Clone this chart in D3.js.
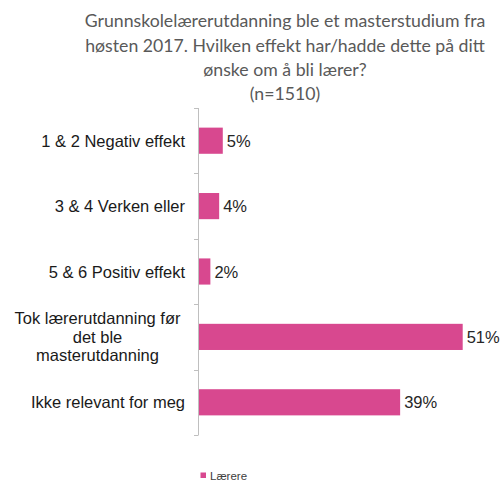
<!DOCTYPE html>
<html>
<head>
<meta charset="utf-8">
<script src="https://cdn.jsdelivr.net/npm/d3@7"></script>
<style>
  html, body { margin: 0; padding: 0; background: #fff; }
  svg { display: block; }
</style>
</head>
<body>
<svg id="chart" width="502" height="482"></svg>
<script>
const titleLines = [
  "Grunnskolelærerutdanning ble et masterstudium fra",
  "høsten 2017. Hvilken effekt har/hadde dette på ditt",
  "ønske om å bli lærer?",
  "(n=1510)"
];
const categories = [
  ["1 & 2 Negativ effekt"],
  ["3 & 4 Verken eller"],
  ["5 & 6 Positiv effekt"],
  ["Tok lærerutdanning før", "det ble", "masterutdanning"],
  ["Ikke relevant for meg"]
];
const values = [4.6, 3.9, 2.2, 51.0, 38.9];
const valueLabels = ["5%", "4%", "2%", "51%", "39%"];
const seriesName = "Lærere";

const color = "#d8488f";
const svg = d3.select("#chart");

// Title
const title = svg.append("g");
const titleBaselines = [27, 51.5, 76, 100];
titleLines.forEach((t, i) => {
  title.append("text")
    .attr("x", 285)
    .attr("y", titleBaselines[i])
    .attr("text-anchor", "middle")
    .attr("font-family", "Lato, 'Open Sans', sans-serif")
    .attr("font-size", 17.7)
    .attr("fill", "#595959")
    .text(t);
});

const x0 = 199;
const x = d3.scaleLinear().domain([0, 51]).range([x0, 462.7]);
const y = d3.scaleBand()
  .domain(d3.range(categories.length))
  .range([108, 435])
  .paddingInner(0.6)
  .paddingOuter(0.3);

// bars
svg.append("g").selectAll("rect")
  .data(values)
  .join("rect")
  .attr("x", x(0))
  .attr("y", (d, i) => y(i))
  .attr("width", d => x(d) - x(0))
  .attr("height", y.bandwidth())
  .attr("fill", color);

// value labels
svg.append("g").selectAll("text")
  .data(values)
  .join("text")
  .attr("x", d => x(d) + 4)
  .attr("y", (d, i) => y(i) + y.bandwidth() / 2 + 6)
  .attr("font-family", "'Liberation Sans', Arial, sans-serif")
  .attr("font-size", 16.5)
  .attr("fill", "#262626")
  .text((d, i) => valueLabels[i]);

// axis
const axis = svg.append("g").attr("stroke", "#bfbfbf").attr("stroke-width", 1);
axis.append("line")
  .attr("x1", x0 - 0.5).attr("x2", x0 - 0.5)
  .attr("y1", 108).attr("y2", 435);
const tickYs = d3.range(categories.length + 1).map(i => 108 + i * (327 / categories.length));
axis.selectAll("line.tick")
  .data(tickYs)
  .join("line")
  .attr("class", "tick")
  .attr("x1", x0 - 5).attr("x2", x0 - 0.5)
  .attr("y1", d => Math.round(d) + 0.5).attr("y2", d => Math.round(d) + 0.5);

// category labels
const labG = svg.append("g")
  .attr("font-family", "'Liberation Sans', Arial, sans-serif")
  .attr("font-size", 16.5)
  .attr("fill", "#1a1a1a");
categories.forEach((lines, i) => {
  const cy = y(i) + y.bandwidth() / 2;
  if (lines.length === 1) {
    labG.append("text")
      .attr("x", 185)
      .attr("y", cy + 6)
      .attr("text-anchor", "end")
      .text(lines[0]);
  } else {
    const lh = 18.5;
    lines.forEach((l, j) => {
      labG.append("text")
        .attr("x", 97.5)
        .attr("y", cy + 6 + (j - (lines.length - 1) / 2) * lh)
        .attr("text-anchor", "middle")
        .text(l);
    });
  }
});

// legend
const leg = svg.append("g");
leg.append("rect")
  .attr("x", 200.5).attr("y", 472.5)
  .attr("width", 5.5).attr("height", 5.5)
  .attr("fill", color);
leg.append("text")
  .attr("x", 210)
  .attr("y", 479.5)
  .attr("font-family", "'Liberation Sans', Arial, sans-serif")
  .attr("font-size", 11.5)
  .attr("fill", "#404040")
  .text(seriesName);
</script>
</body>
</html>
